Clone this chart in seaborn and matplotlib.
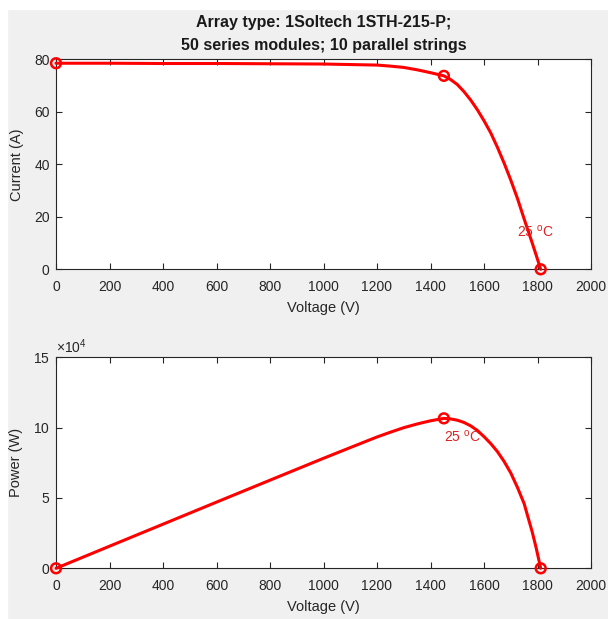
import matplotlib
matplotlib.use("Agg")
import matplotlib.pyplot as plt
from matplotlib.patches import Rectangle
from matplotlib.ticker import ScalarFormatter
import seaborn as sns
import pandas as pd

# ---- data ----
voltage = [0, 200, 400, 600, 800, 1000, 1100, 1200, 1250, 1300, 1350, 1400, 1450,
           1475, 1500, 1525, 1550, 1575, 1600, 1625, 1650, 1675, 1700, 1725, 1750,
           1780, 1795, 1812]
current = [78.5, 78.5, 78.4, 78.4, 78.3, 78.2, 78.0, 77.8, 77.4, 76.9, 76.0, 74.9, 73.7,
           72.3, 70.4, 67.7, 64.5, 60.8, 56.6, 52.0, 46.5, 40.5, 34.0, 27.0, 19.2,
           10.1, 5.4, 0.0]
power = [0, 15700, 31360, 47040, 62640, 78200, 85800, 93360, 96750, 99970, 102600,
         104860, 106600, 106200, 105300, 103700, 101300, 98000, 93600, 88700, 83000,
         76000, 67800, 57500, 46000, 26000, 14500, 0]
title_lines = ["Array type: 1Soltech 1STH-215-P;", "50 series modules; 10 parallel strings"]
temp_label = "25 $^{o}$C"
x_ticks = [0, 200, 400, 600, 800, 1000, 1200, 1400, 1600, 1800, 2000]
i_ticks = [0, 20, 40, 60, 80]
p_ticks = [0, 50000, 100000, 150000]

df = pd.DataFrame({"V": voltage, "I": current, "P": power})
mpp = df["P"].idxmax()
key_idx = [0, mpp, len(df) - 1]

sns.set_style("ticks")
plt.rcParams["font.family"] = ["Liberation Sans", "DejaVu Sans"]
plt.rcParams["mathtext.fontset"] = "custom"
plt.rcParams["mathtext.rm"] = "Liberation Sans"
plt.rcParams["mathtext.it"] = "Liberation Sans"

W, H = 608, 619
fig = plt.figure(figsize=(W / 100, H / 100), dpi=100, facecolor="#f0f0f0")
fig.patches.append(Rectangle((0, 0), 7 / W, 1, transform=fig.transFigure,
                             color="white", zorder=-10))
fig.patches.append(Rectangle((0, 1 - 9 / H), 1, 9 / H, transform=fig.transFigure,
                             color="white", zorder=-10))

left = 56 / W
width = (591 - 56) / W
ax1 = fig.add_axes([left, 1 - 269.3 / H, width, (269.3 - 59.3) / H])
ax2 = fig.add_axes([left, 1 - 568.3 / H, width, (568.3 - 357.3) / H])

red = "#ff0000"
axis_col = "#262626"

for ax, ycol, yt, ylim, ylabel in [
    (ax1, "I", i_ticks, (0, 80), "Current (A)"),
    (ax2, "P", p_ticks, (0, 150000), "Power (W)"),
]:
    ax.set_facecolor("white")
    sns.lineplot(data=df, x="V", y=ycol, ax=ax, color=red, linewidth=2.2,
                 clip_on=False, zorder=3)
    sns.scatterplot(data=df.iloc[key_idx], x="V", y=ycol, ax=ax, s=50,
                    facecolor="none", edgecolor=red, linewidth=1.8,
                    clip_on=False, zorder=4)
    ax.set_xlim(0, 2000)
    ax.set_ylim(*ylim)
    ax.set_xticks(x_ticks)
    ax.set_yticks(yt)
    ax.set_xlabel("Voltage (V)", fontsize=10.5, color=axis_col, labelpad=5)
    ax.set_ylabel(ylabel, fontsize=10.5, color=axis_col, labelpad=7)
    ax.tick_params(direction="in", length=4, width=0.8, top=True, right=True,
                   labelsize=10, colors=axis_col)
    ax.tick_params(axis="x", pad=8)
    ax.tick_params(axis="y", pad=4.5)
    for s in ax.spines.values():
        s.set_visible(True)
        s.set_color(axis_col)
        s.set_linewidth(0.8)

fmt = ScalarFormatter(useMathText=True)
fmt.set_powerlimits((4, 4))
ax2.yaxis.set_major_formatter(fmt)
ax2.yaxis.get_offset_text().set_fontsize(10)
ax2.yaxis.get_offset_text().set_color(axis_col)

ax1.set_title("\n".join(title_lines), fontsize=11.5, fontweight="bold",
              color="#1a1a1a", pad=6.5, linespacing=1.65)

ax1.text(1723, 14.2, temp_label, color="#e02020", fontsize=10, va="center", ha="left")
ax2.text(1450, 93300, temp_label, color="#e02020", fontsize=10, va="center", ha="left")

fig.savefig("out.png", dpi=100, facecolor=fig.get_facecolor())
